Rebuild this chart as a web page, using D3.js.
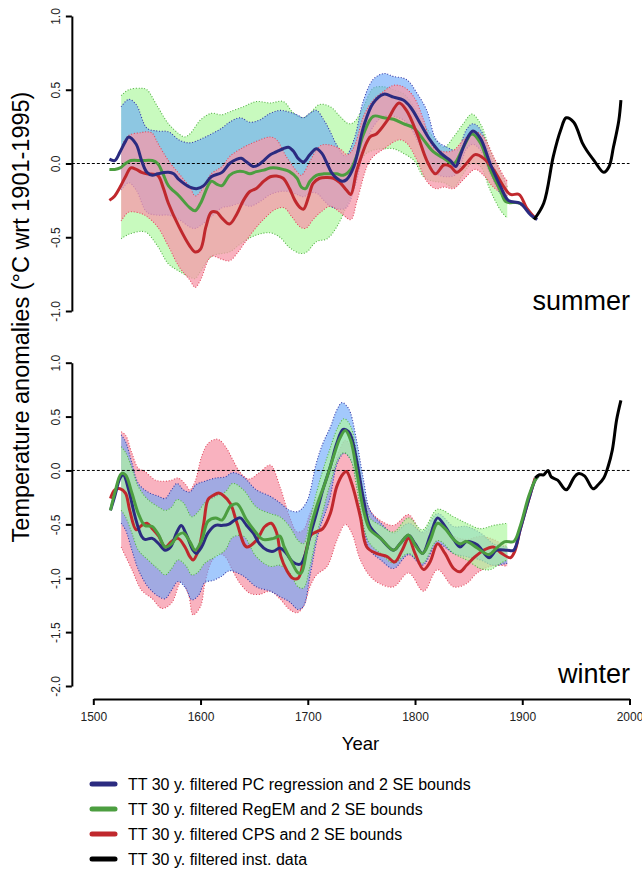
<!DOCTYPE html>
<html>
<head>
<meta charset="utf-8">
<script src="https://cdn.jsdelivr.net/npm/d3@7"></script>
<style>
  body { margin: 0; background: #fff; }
  svg { display: block; }
</style>
</head>
<body>
<div id="chart"></div>
<script>
// ---- data: [year, anomaly] ----
const xTicks = [1500, 1600, 1700, 1800, 1900, 2000];
const sumTicks = [1, 0.5, 0, -0.5, -1];
const winTicks = [1, 0.5, 0, -0.5, -1, -1.5, -2];
const legendLabels = [
  'TT 30 y. filtered PC regression and 2 SE bounds',
  'TT 30 y. filtered RegEM and 2 SE bounds',
  'TT 30 y. filtered CPS and 2 SE bounds',
  'TT 30 y. filtered inst. data'
];

// summer
const sumPC = [[1515,0.03],[1520,0.02],[1525,0.08],[1530,0.15],[1533,0.18],[1540,0.13],[1545,0.02],[1550,-0.06],[1555,-0.08],[1560,-0.07],[1570,-0.06],[1575,-0.07],[1580,-0.11],[1590,-0.16],[1597,-0.17],[1603,-0.15],[1610,-0.09],[1620,-0.06],[1627,0.0],[1634,0.03],[1638,0.035],[1643,0.01],[1649,-0.02],[1654,-0.01],[1659,0.02],[1665,0.06],[1671,0.08],[1677,0.10],[1682,0.11],[1687,0.08],[1691,0.035],[1696,0.01],[1702,0.06],[1708,0.10],[1713,0.07],[1718,0.0],[1722,-0.06],[1727,-0.10],[1732,-0.12],[1736,-0.11],[1743,-0.02],[1752,0.25],[1761,0.41],[1771,0.47],[1780,0.45],[1789,0.43],[1796,0.38],[1805,0.27],[1814,0.16],[1824,0.07],[1833,0.02],[1838,-0.02],[1842,0.05],[1848,0.16],[1854,0.22],[1861,0.17],[1870,0.00],[1880,-0.16],[1887,-0.25],[1898,-0.27],[1908,-0.35],[1914,-0.38]];
const sumPCup = [[1526,0.385],[1533,0.435],[1540,0.40],[1550,0.24],[1560,0.22],[1570,0.215],[1580,0.16],[1590,0.14],[1600,0.165],[1610,0.20],[1620,0.24],[1627,0.28],[1637,0.31],[1646,0.28],[1655,0.295],[1665,0.34],[1674,0.36],[1682,0.35],[1690,0.33],[1696,0.31],[1702,0.34],[1708,0.36],[1715,0.295],[1721,0.215],[1727,0.125],[1735,0.05],[1743,0.16],[1752,0.43],[1761,0.57],[1771,0.61],[1780,0.59],[1792,0.57],[1802,0.475],[1811,0.36],[1820,0.16],[1830,0.11],[1839,0.09],[1848,0.23],[1854,0.27],[1861,0.23],[1870,0.05],[1880,-0.13],[1886,-0.20]];
const sumPClo = [[1526,-0.18],[1533,-0.13],[1540,-0.18],[1550,-0.33],[1560,-0.35],[1570,-0.35],[1580,-0.38],[1590,-0.43],[1595,-0.44],[1600,-0.42],[1610,-0.36],[1620,-0.30],[1627,-0.29],[1637,-0.27],[1646,-0.29],[1655,-0.26],[1665,-0.21],[1674,-0.19],[1682,-0.19],[1690,-0.21],[1696,-0.225],[1702,-0.20],[1708,-0.20],[1715,-0.25],[1721,-0.29],[1730,-0.31],[1736,-0.30],[1743,-0.18],[1752,0.07],[1761,0.25],[1771,0.32],[1780,0.32],[1792,0.28],[1802,0.16],[1811,0.02],[1820,-0.07],[1830,-0.09],[1839,-0.07],[1848,0.10],[1854,0.13],[1861,0.09],[1870,-0.07],[1880,-0.21],[1886,-0.26]];
const sumRE = [[1515,-0.04],[1520,-0.04],[1525,-0.03],[1530,0.00],[1535,0.02],[1545,0.02],[1555,0.02],[1560,0.00],[1565,-0.07],[1570,-0.15],[1580,-0.22],[1590,-0.30],[1595,-0.32],[1600,-0.27],[1610,-0.12],[1615,-0.14],[1620,-0.15],[1627,-0.08],[1634,-0.055],[1640,-0.055],[1646,-0.07],[1652,-0.055],[1659,-0.045],[1665,-0.03],[1671,-0.03],[1677,-0.04],[1683,-0.055],[1690,-0.10],[1694,-0.16],[1698,-0.17],[1702,-0.12],[1708,-0.08],[1715,-0.07],[1721,-0.07],[1727,-0.07],[1733,-0.08],[1740,-0.04],[1746,0.06],[1752,0.20],[1761,0.32],[1771,0.31],[1780,0.30],[1789,0.27],[1799,0.24],[1808,0.16],[1817,0.08],[1827,0.035],[1836,0.00],[1845,0.11],[1853,0.20],[1861,0.14],[1870,-0.04],[1880,-0.19],[1885,-0.26],[1898,-0.27],[1911,-0.37]];
const sumREup = [[1526,0.46],[1533,0.50],[1545,0.51],[1550,0.50],[1560,0.385],[1570,0.27],[1580,0.20],[1585,0.18],[1590,0.20],[1600,0.295],[1610,0.34],[1620,0.33],[1627,0.35],[1640,0.385],[1652,0.42],[1665,0.41],[1677,0.42],[1687,0.34],[1696,0.31],[1702,0.34],[1711,0.40],[1721,0.385],[1730,0.32],[1738,0.27],[1743,0.28],[1752,0.385],[1761,0.51],[1771,0.52],[1780,0.50],[1789,0.475],[1799,0.385],[1808,0.27],[1817,0.18],[1827,0.11],[1836,0.18],[1845,0.27],[1853,0.335],[1861,0.27],[1870,0.09],[1880,-0.07],[1886,-0.16]];
const sumRElo = [[1526,-0.51],[1533,-0.48],[1545,-0.46],[1550,-0.47],[1560,-0.56],[1570,-0.68],[1580,-0.73],[1590,-0.77],[1595,-0.78],[1600,-0.73],[1610,-0.63],[1620,-0.61],[1627,-0.60],[1640,-0.53],[1652,-0.485],[1665,-0.47],[1674,-0.50],[1683,-0.57],[1693,-0.61],[1699,-0.60],[1708,-0.53],[1718,-0.51],[1727,-0.43],[1736,-0.29],[1743,-0.16],[1752,0.05],[1761,0.09],[1771,0.10],[1780,0.10],[1789,0.07],[1799,0.02],[1808,-0.09],[1817,-0.12],[1827,-0.13],[1836,-0.16],[1845,-0.07],[1853,0.00],[1861,-0.02],[1870,-0.18],[1880,-0.32],[1886,-0.37]];
const sumCPS = [[1515,-0.25],[1520,-0.22],[1525,-0.16],[1530,-0.09],[1535,-0.03],[1540,-0.04],[1545,-0.06],[1550,-0.07],[1560,-0.08],[1565,-0.16],[1570,-0.27],[1580,-0.43],[1590,-0.56],[1595,-0.60],[1600,-0.58],[1605,-0.43],[1610,-0.33],[1615,-0.33],[1620,-0.37],[1627,-0.41],[1634,-0.34],[1640,-0.25],[1646,-0.19],[1652,-0.17],[1659,-0.12],[1665,-0.09],[1671,-0.085],[1677,-0.10],[1683,-0.17],[1688,-0.25],[1693,-0.30],[1696,-0.31],[1701,-0.22],[1705,-0.135],[1711,-0.10],[1718,-0.095],[1724,-0.10],[1730,-0.13],[1736,-0.18],[1740,-0.21],[1746,-0.04],[1758,0.18],[1764,0.20],[1774,0.29],[1785,0.41],[1792,0.36],[1802,0.20],[1811,0.02],[1819,-0.07],[1827,-0.01],[1833,-0.02],[1839,-0.06],[1848,0.00],[1856,0.06],[1864,0.035],[1873,-0.04],[1883,-0.16],[1889,-0.21],[1897,-0.21],[1904,-0.30],[1912,-0.37]];
const sumCPSup = [[1526,0.11],[1533,0.19],[1545,0.21],[1550,0.215],[1555,0.205],[1560,0.14],[1570,0.02],[1580,-0.07],[1590,-0.16],[1595,-0.22],[1600,-0.19],[1610,-0.07],[1620,-0.02],[1627,0.046],[1640,0.11],[1652,0.15],[1665,0.18],[1671,0.16],[1680,0.046],[1690,-0.055],[1694,-0.08],[1701,0.0],[1707,0.08],[1713,0.125],[1721,0.125],[1730,0.10],[1737,0.06],[1743,0.11],[1752,0.32],[1761,0.43],[1771,0.49],[1780,0.53],[1789,0.52],[1799,0.45],[1808,0.295],[1817,0.11],[1827,0.08],[1836,0.09],[1845,0.16],[1856,0.215],[1864,0.18],[1873,0.05],[1883,-0.09],[1886,-0.12]];
const sumCPSlo = [[1526,-0.39],[1533,-0.33],[1545,-0.34],[1550,-0.36],[1560,-0.43],[1570,-0.56],[1580,-0.70],[1590,-0.79],[1595,-0.84],[1600,-0.79],[1610,-0.63],[1620,-0.65],[1627,-0.66],[1635,-0.60],[1640,-0.55],[1650,-0.45],[1660,-0.37],[1670,-0.31],[1678,-0.30],[1685,-0.36],[1693,-0.43],[1698,-0.44],[1705,-0.38],[1712,-0.33],[1721,-0.29],[1730,-0.33],[1740,-0.38],[1746,-0.25],[1758,0.02],[1771,0.10],[1785,0.16],[1792,0.14],[1802,0.02],[1811,-0.12],[1819,-0.17],[1827,-0.16],[1836,-0.17],[1845,-0.11],[1856,-0.04],[1864,-0.08],[1873,-0.16],[1883,-0.21],[1886,-0.22]];
const sumInst = [[1911,-0.38],[1920,-0.27],[1929,0.05],[1936,0.23],[1941,0.31],[1948,0.28],[1956,0.14],[1960,0.09],[1967,0.02],[1976,-0.06],[1981,-0.02],[1985,0.11],[1990,0.29],[1992,0.43]];

// winter
const winPC = [[1516,-0.37],[1520,-0.24],[1525,-0.07],[1528,-0.04],[1533,-0.18],[1539,-0.43],[1545,-0.61],[1548,-0.64],[1555,-0.63],[1561,-0.68],[1567,-0.74],[1572,-0.71],[1578,-0.57],[1582,-0.51],[1587,-0.60],[1593,-0.74],[1596,-0.77],[1601,-0.71],[1607,-0.58],[1614,-0.51],[1620,-0.51],[1626,-0.50],[1632,-0.46],[1637,-0.44],[1643,-0.51],[1649,-0.58],[1655,-0.68],[1662,-0.74],[1668,-0.75],[1674,-0.72],[1680,-0.77],[1686,-0.85],[1693,-0.87],[1697,-0.80],[1702,-0.61],[1708,-0.40],[1714,-0.18],[1721,0.035],[1727,0.25],[1733,0.38],[1738,0.36],[1741,0.30],[1746,0.07],[1752,-0.27],[1758,-0.52],[1768,-0.63],[1780,-0.74],[1786,-0.68],[1794,-0.60],[1800,-0.68],[1807,-0.77],[1814,-0.61],[1821,-0.44],[1828,-0.52],[1836,-0.64],[1842,-0.71],[1848,-0.66],[1858,-0.69],[1869,-0.81],[1876,-0.74],[1886,-0.74],[1892,-0.74],[1898,-0.55],[1906,-0.27],[1912,-0.09],[1915,-0.05]];
const winPCup = [[1526,0.33],[1530,0.27],[1536,0.07],[1542,-0.12],[1551,-0.20],[1561,-0.24],[1567,-0.26],[1573,-0.18],[1578,-0.12],[1584,-0.18],[1590,-0.20],[1596,-0.13],[1604,-0.10],[1614,-0.07],[1623,-0.06],[1630,-0.02],[1640,-0.06],[1652,-0.18],[1665,-0.24],[1674,-0.30],[1683,-0.37],[1691,-0.38],[1699,-0.29],[1708,0.07],[1714,0.25],[1721,0.40],[1727,0.56],[1732,0.63],[1737,0.59],[1740,0.53],[1746,0.25],[1752,-0.09],[1758,-0.37],[1768,-0.49],[1780,-0.58],[1794,-0.49],[1807,-0.57],[1821,-0.40],[1836,-0.52],[1848,-0.52],[1861,-0.58],[1873,-0.68],[1886,-0.71]];
const winPClo = [[1526,-0.49],[1530,-0.55],[1536,-0.74],[1542,-0.92],[1551,-1.08],[1561,-1.17],[1567,-1.19],[1573,-1.11],[1579,-1.03],[1586,-1.09],[1592,-1.20],[1598,-1.16],[1604,-1.04],[1612,-1.02],[1620,-0.98],[1627,-0.93],[1640,-0.98],[1652,-1.08],[1665,-1.12],[1674,-1.17],[1683,-1.22],[1691,-1.29],[1696,-1.26],[1702,-0.98],[1710,-0.58],[1720,-0.28],[1728,0.08],[1734,0.16],[1740,0.10],[1746,-0.15],[1752,-0.52],[1758,-0.74],[1768,-0.83],[1780,-0.91],[1794,-0.78],[1807,-0.88],[1821,-0.68],[1836,-0.77],[1848,-0.80],[1861,-0.83],[1873,-0.88],[1886,-0.86]];
const winRE = [[1516,-0.37],[1520,-0.21],[1526,-0.03],[1530,-0.04],[1536,-0.21],[1542,-0.40],[1548,-0.51],[1555,-0.52],[1561,-0.60],[1567,-0.71],[1573,-0.68],[1579,-0.60],[1584,-0.58],[1590,-0.66],[1595,-0.74],[1601,-0.65],[1607,-0.47],[1614,-0.44],[1620,-0.46],[1628,-0.33],[1634,-0.31],[1643,-0.46],[1652,-0.58],[1658,-0.64],[1668,-0.63],[1674,-0.61],[1678,-0.71],[1685,-0.85],[1691,-0.95],[1694,-0.95],[1699,-0.74],[1703,-0.52],[1708,-0.34],[1717,-0.09],[1724,0.13],[1730,0.30],[1735,0.37],[1740,0.28],[1746,-0.03],[1752,-0.37],[1758,-0.55],[1768,-0.63],[1780,-0.74],[1786,-0.68],[1794,-0.60],[1800,-0.69],[1807,-0.77],[1814,-0.65],[1821,-0.49],[1828,-0.54],[1836,-0.64],[1842,-0.68],[1848,-0.66],[1858,-0.72],[1869,-0.78],[1876,-0.72],[1884,-0.66],[1892,-0.66],[1898,-0.52],[1906,-0.24],[1912,-0.09],[1915,-0.05]];
const winREup = [[1526,0.22],[1530,0.17],[1536,0.02],[1542,-0.15],[1551,-0.27],[1561,-0.34],[1567,-0.37],[1573,-0.34],[1578,-0.27],[1584,-0.30],[1592,-0.43],[1598,-0.38],[1604,-0.30],[1614,-0.24],[1623,-0.20],[1630,-0.12],[1640,-0.18],[1652,-0.34],[1665,-0.40],[1674,-0.43],[1683,-0.52],[1691,-0.65],[1696,-0.68],[1702,-0.46],[1708,-0.21],[1714,0.0],[1720,0.18],[1728,0.40],[1734,0.48],[1740,0.41],[1746,0.13],[1752,-0.21],[1758,-0.44],[1768,-0.51],[1780,-0.57],[1794,-0.44],[1807,-0.55],[1821,-0.36],[1836,-0.43],[1848,-0.49],[1861,-0.54],[1873,-0.51],[1886,-0.49]];
const winRElo = [[1526,-0.37],[1530,-0.43],[1536,-0.58],[1542,-0.74],[1551,-0.83],[1561,-0.92],[1567,-0.97],[1573,-0.91],[1579,-0.83],[1586,-0.88],[1592,-0.97],[1598,-0.94],[1604,-0.86],[1614,-0.80],[1623,-0.74],[1630,-0.62],[1640,-0.61],[1652,-0.80],[1665,-0.89],[1674,-0.88],[1683,-0.95],[1691,-1.08],[1696,-1.09],[1702,-0.89],[1708,-0.61],[1714,-0.38],[1721,-0.12],[1729,0.12],[1734,0.165],[1740,0.10],[1746,-0.18],[1752,-0.52],[1758,-0.68],[1768,-0.77],[1780,-0.86],[1794,-0.77],[1807,-0.86],[1821,-0.65],[1836,-0.77],[1848,-0.83],[1861,-0.91],[1870,-0.92],[1880,-0.86],[1886,-0.83]];
const winCPS = [[1516,-0.26],[1520,-0.18],[1525,-0.17],[1530,-0.21],[1534,-0.37],[1540,-0.55],[1545,-0.51],[1550,-0.49],[1555,-0.54],[1561,-0.61],[1567,-0.71],[1573,-0.66],[1579,-0.63],[1586,-0.72],[1590,-0.80],[1593,-0.83],[1598,-0.74],[1603,-0.49],[1607,-0.27],[1612,-0.23],[1617,-0.21],[1621,-0.23],[1628,-0.31],[1634,-0.49],[1643,-0.71],[1652,-0.65],[1660,-0.52],[1666,-0.49],[1671,-0.58],[1675,-0.80],[1680,-0.92],[1686,-1.00],[1691,-1.00],[1697,-0.80],[1703,-0.60],[1708,-0.57],[1714,-0.54],[1721,-0.40],[1727,-0.15],[1733,-0.03],[1736,-0.01],[1741,-0.12],[1749,-0.43],[1755,-0.71],[1764,-0.77],[1774,-0.80],[1781,-0.85],[1788,-0.74],[1794,-0.63],[1800,-0.77],[1808,-0.92],[1814,-0.85],[1821,-0.68],[1828,-0.77],[1836,-0.91],[1842,-0.94],[1848,-0.88],[1856,-0.80],[1864,-0.74],[1873,-0.71],[1881,-0.77],[1889,-0.81],[1893,-0.75],[1898,-0.55],[1906,-0.27],[1912,-0.07]];
const winCPSup = [[1526,0.36],[1530,0.33],[1536,0.16],[1542,0.02],[1548,-0.01],[1558,-0.09],[1567,-0.10],[1573,-0.09],[1579,-0.07],[1586,-0.13],[1590,-0.18],[1595,-0.10],[1601,0.13],[1607,0.25],[1614,0.29],[1618,0.28],[1624,0.21],[1630,0.10],[1637,-0.02],[1645,-0.08],[1655,-0.02],[1665,0.05],[1674,-0.15],[1683,-0.43],[1690,-0.57],[1696,-0.55],[1702,-0.40],[1711,-0.21],[1721,-0.03],[1730,0.20],[1735,0.28],[1741,0.20],[1749,-0.12],[1758,-0.37],[1767,-0.46],[1780,-0.51],[1794,-0.41],[1807,-0.58],[1821,-0.49],[1836,-0.61],[1848,-0.64],[1861,-0.61],[1873,-0.64],[1886,-0.71]];
const winCPSlo = [[1526,-0.71],[1536,-0.92],[1545,-1.11],[1555,-1.19],[1564,-1.28],[1573,-1.23],[1582,-1.03],[1589,-1.16],[1593,-1.34],[1600,-1.26],[1604,-1.05],[1610,-0.85],[1617,-0.77],[1623,-0.80],[1630,-0.93],[1637,-1.05],[1646,-1.14],[1655,-1.15],[1665,-1.12],[1674,-1.19],[1683,-1.29],[1690,-1.32],[1696,-1.26],[1702,-1.08],[1708,-0.97],[1718,-0.89],[1727,-0.65],[1735,-0.50],[1741,-0.58],[1749,-0.83],[1758,-0.98],[1767,-1.05],[1780,-1.08],[1794,-0.95],[1808,-1.12],[1821,-0.92],[1836,-1.08],[1848,-1.05],[1858,-0.95],[1870,-0.89],[1879,-0.88],[1886,-0.89]];
const winInst = [[1912,-0.07],[1916,-0.04],[1920,-0.04],[1924,0.00],[1927,-0.06],[1933,-0.09],[1941,-0.18],[1948,-0.07],[1952,-0.03],[1958,-0.05],[1966,-0.17],[1971,-0.13],[1976,-0.07],[1980,0.035],[1984,0.19],[1988,0.47],[1992,0.65]];

// ---- styles ----
const FONT = '"Liberation Sans", Arial, Helvetica, sans-serif';
const fills = { blue: ['#66a5fa', 0.6], green: ['#adf89e', 0.67], red: ['#f798aa', 0.75] };
const edges = { blue: '#3a3aa6', green: '#55b346', red: '#e24c60' };
const strokes = { blue: '#2b2b80', green: '#4c9e40', red: '#c0282d', black: '#000' };

const W = 642, H = 869;
const svg = d3.select('#chart').append('svg')
  .attr('width', W).attr('height', H)
  .attr('font-family', FONT);

const x = d3.scaleLinear().domain([1500, 2000]).range([93.3, 629.5]);

const panels = [
  { label: 'summer', labelY: 310, domain: [-1, 1], range: [311, 16], ticks: sumTicks,
    bands: [[sumREup, sumRElo, 'green'], [sumPCup, sumPClo, 'blue'], [sumCPSup, sumCPSlo, 'red']],
    lines: [[sumRE, 'green'], [sumCPS, 'red'], [sumPC, 'blue'], [sumInst, 'black']] },
  { label: 'winter', labelY: 683, domain: [-2, 1], range: [686, 362.7], ticks: winTicks,
    bands: [[winCPSup, winCPSlo, 'red'], [winPCup, winPClo, 'blue'], [winREup, winRElo, 'green']],
    lines: [[winCPS, 'red'], [winPC, 'blue'], [winRE, 'green'], [winInst, 'black']] }
];

panels.forEach(p => {
  const y = d3.scaleLinear().domain(p.domain).range(p.range);
  const g = svg.append('g');
  const line = d3.line()
    .x(d => x(d[0]))
    .y(d => y(d[1]))
    .curve(d3.curveCatmullRom.alpha(0.5));

  // 2 SE bands
  p.bands.forEach(([up, lo, c]) => {
    const d = line(up) + 'L' + line(lo.slice().reverse()).slice(1) + 'Z';
    g.append('path').attr('d', d)
      .attr('fill', fills[c][0]).attr('fill-opacity', fills[c][1]).attr('stroke', 'none');
    [up, lo].forEach(s => {
      g.append('path').attr('d', line(s))
        .attr('fill', 'none').attr('stroke', edges[c])
        .attr('stroke-width', 1.1).attr('stroke-dasharray', '1,1.8');
    });
  });

  // zero line
  g.append('line')
    .attr('x1', x(1480)).attr('x2', x(2000))
    .attr('y1', y(0)).attr('y2', y(0))
    .attr('stroke', '#000').attr('stroke-width', 1).attr('stroke-dasharray', '3,2');

  // filtered series
  p.lines.forEach(([s, c]) => {
    g.append('path').attr('d', line(s))
      .attr('fill', 'none').attr('stroke', strokes[c])
      .attr('stroke-width', 3).attr('stroke-linejoin', 'round');
  });

  // y axis
  const ay = g.append('g')
    .attr('transform', `translate(${x(1480)},0)`)
    .call(d3.axisLeft(y).tickValues(p.ticks).tickSize(6).tickSizeOuter(0)
      .tickFormat(d => d.toFixed(1)));
  ay.attr('font-family', FONT).attr('font-size', 12);
  ay.select('.domain').attr('stroke-width', 2);
  ay.selectAll('.tick line').attr('stroke-width', 2);
  ay.selectAll('.tick text')
    .attr('x', 0).attr('dy', 0)
    .attr('text-anchor', 'middle')
    .attr('fill', '#222')
    .attr('transform', 'translate(-12,0) rotate(-90)');

  g.append('text')
    .attr('x', 630).attr('y', p.labelY)
    .attr('text-anchor', 'end')
    .attr('font-size', 27)
    .text(p.label);
});

// x axis
const ax = svg.append('g')
  .attr('transform', 'translate(0,699)')
  .call(d3.axisBottom(x).tickValues(xTicks).tickSize(6).tickSizeOuter(0)
    .tickFormat(d3.format('d')));
ax.attr('font-family', FONT).attr('font-size', 12);
ax.select('.domain').attr('stroke-width', 2);
ax.selectAll('.tick line').attr('stroke-width', 2);
ax.selectAll('.tick text').attr('y', 13).attr('fill', '#222');

// axis titles
svg.append('text')
  .attr('transform', 'translate(29,317) rotate(-90)')
  .attr('text-anchor', 'middle')
  .attr('font-size', 23.5)
  .text('Temperature anomalies (°C wrt 1901-1995)');

svg.append('text')
  .attr('x', 360.5).attr('y', 750)
  .attr('text-anchor', 'middle')
  .attr('font-size', 18.5)
  .text('Year');

// legend
const legendColors = [strokes.blue, strokes.green, strokes.red, strokes.black];
const legend = svg.append('g').attr('transform', 'translate(0,784)');
legendLabels.forEach((t, i) => {
  const row = legend.append('g').attr('transform', `translate(0,${i * 25})`);
  row.append('line')
    .attr('x1', 92).attr('x2', 115).attr('y1', 0).attr('y2', 0)
    .attr('stroke', legendColors[i]).attr('stroke-width', 5)
    .attr('stroke-linecap', 'round');
  row.append('text')
    .attr('x', 128).attr('y', 0).attr('dy', '0.36em')
    .attr('font-size', 16)
    .text(t);
});
</script>
</body>
</html>
